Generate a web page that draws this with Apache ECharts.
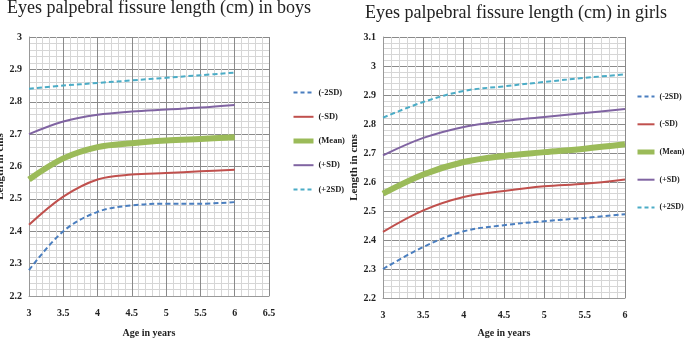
<!DOCTYPE html>
<html>
<head>
<meta charset="utf-8">
<script src="https://cdn.jsdelivr.net/npm/echarts@6/dist/echarts.min.js"></script>
<style>
  html, body { margin: 0; padding: 0; background: #fff; }
  #chart { width: 685px; height: 339px; }
</style>
</head>
<body>
<div id="chart"></div>
<script>
// ages on the x axis (both charts)
const ages = [3, 3.5, 4, 4.5, 5, 5.5, 6];
const seriesNames = ['(-2SD)', '(-SD)', '(Mean)', '(+SD)', '(+2SD)'];

// boys
const boysMinus2SD = [2.28, 2.40, 2.46, 2.48, 2.485, 2.485, 2.49];
const boysMinusSD  = [2.42, 2.507, 2.56, 2.575, 2.58, 2.585, 2.59];
const boysMean     = [2.56, 2.625, 2.66, 2.672, 2.68, 2.685, 2.69];
const boysPlusSD   = [2.70, 2.739, 2.76, 2.77, 2.776, 2.782, 2.79];
const boysPlus2SD  = [2.84, 2.85, 2.858, 2.866, 2.874, 2.882, 2.89];

// girls
const girlsMinus2SD = [2.30, 2.376, 2.43, 2.451, 2.465, 2.476, 2.489];
const girlsMinusSD  = [2.428, 2.502, 2.548, 2.569, 2.585, 2.594, 2.609];
const girlsMean     = [2.56, 2.626, 2.669, 2.69, 2.703, 2.715, 2.73];
const girlsPlusSD   = [2.692, 2.752, 2.79, 2.81, 2.824, 2.838, 2.852];
const girlsPlus2SD  = [2.822, 2.876, 2.914, 2.93, 2.945, 2.959, 2.971];

const colors = ['#4a7ebf', '#c0504d', '#9bbb59', '#8064a2', '#4bacc6'];
const widths = [2, 2, 6, 2, 2];
const dashed = [true, false, false, false, true];

const serif = '"Liberation Serif", "Times New Roman", serif';

const pair = vals => ages.map((a, i) => [a, vals[i]]);

function makeSeries(dataSets, idx) {
    return dataSets.map((vals, i) => ({
        name: seriesNames[i],
        type: 'line',
        xAxisIndex: idx,
        yAxisIndex: idx,
        smooth: 0.35,
        symbol: 'none',
        lineStyle: {
            color: colors[i],
            width: widths[i],
            type: dashed[i] ? [5, 3] : 'solid'
        },
        itemStyle: { color: colors[i] },
        data: pair(vals)
    }));
}

// legend entries carry their own line width, the legend would thin them otherwise
const legendData = seriesNames.map((name, i) => ({
    name,
    lineStyle: {
        color: colors[i],
        width: i === 2 ? 5 : 2,
        type: dashed[i] ? [4, 3] : 'solid'
    }
}));

const axisLabelStyle = {
    fontFamily: serif,
    fontWeight: 'bold',
    fontSize: 10,
    color: '#222'
};

function xAxisFor(max, gridIndex, nameGap) {
    return {
        type: 'value',
        gridIndex,
        min: 3,
        max,
        interval: 0.5,
        name: 'Age in years',
        nameLocation: 'middle',
        nameGap,
        nameTextStyle: { fontFamily: serif, fontWeight: 'bold', fontSize: 10, color: '#222' },
        axisLine: { show: true, lineStyle: { color: '#999' } },
        axisTick: { show: false },
        axisLabel: Object.assign({ margin: 12 }, axisLabelStyle),
        splitLine: { show: true, lineStyle: { color: '#8a8a8a', width: 1 } },
        minorTick: { show: false, splitNumber: 5 },
        minorSplitLine: { show: true, lineStyle: { color: '#d6d6d6', width: 1 } }
    };
}

function yAxisFor(max, gridIndex, nameGap) {
    return {
        type: 'value',
        gridIndex,
        min: 2.2,
        max,
        interval: 0.1,
        name: 'Length in cms',
        nameLocation: 'middle',
        nameGap,
        nameTextStyle: { fontFamily: serif, fontWeight: 'bold', fontSize: 11, color: '#222' },
        axisLine: { show: true, lineStyle: { color: '#999' } },
        axisTick: { show: false },
        axisLabel: Object.assign({ margin: 7 }, axisLabelStyle),
        splitLine: { show: true, lineStyle: { color: '#8a8a8a', width: 1 } },
        minorTick: { show: false, splitNumber: 5 },
        minorSplitLine: { show: true, lineStyle: { color: '#d6d6d6', width: 1 } }
    };
}

const titleText = { fontFamily: serif, fontWeight: 'normal', fontSize: 18, color: '#222' };

const chart = echarts.init(document.getElementById('chart'));
chart.setOption({
    animation: false,
    backgroundColor: '#fff',
    title: [
        {
            text: 'Eyes palpebral fissure length (cm) in boys',
            left: 7, top: -1, padding: 0,
            textStyle: titleText
        },
        {
            text: 'Eyes palpebral fissure length (cm) in girls',
            left: 365, top: 4, padding: 0,
            textStyle: titleText
        }
    ],
    grid: [
        { left: 29, top: 37, width: 240, height: 259, outerBoundsMode: 'none' },
        { left: 383, top: 37, width: 242, height: 261, outerBoundsMode: 'none' }
    ],
    legend: [
        {
            left: 286, top: 82, orient: 'vertical',
            itemWidth: 20, itemHeight: 14, itemGap: 13,
            textStyle: { fontFamily: serif, fontWeight: 'bold', fontSize: 8.5, color: '#222' },
            itemStyle: { opacity: 0 },
            data: legendData,
            selectedMode: false
        },
        {
            left: 630, top: 86, orient: 'vertical',
            itemWidth: 17, itemHeight: 14, itemGap: 16.5,
            textStyle: { fontFamily: serif, fontWeight: 'bold', fontSize: 8, color: '#222' },
            itemStyle: { opacity: 0 },
            data: legendData,
            selectedMode: false
        }
    ],
    xAxis: [xAxisFor(6.5, 0, 32), xAxisFor(6, 1, 30)],
    yAxis: [yAxisFor(3, 0, 18), yAxisFor(3.1, 1, 16)],
    series: [
        ...makeSeries([boysMinus2SD, boysMinusSD, boysMean, boysPlusSD, boysPlus2SD], 0),
        ...makeSeries([girlsMinus2SD, girlsMinusSD, girlsMean, girlsPlusSD, girlsPlus2SD], 1)
    ]
});
</script>
</body>
</html>
